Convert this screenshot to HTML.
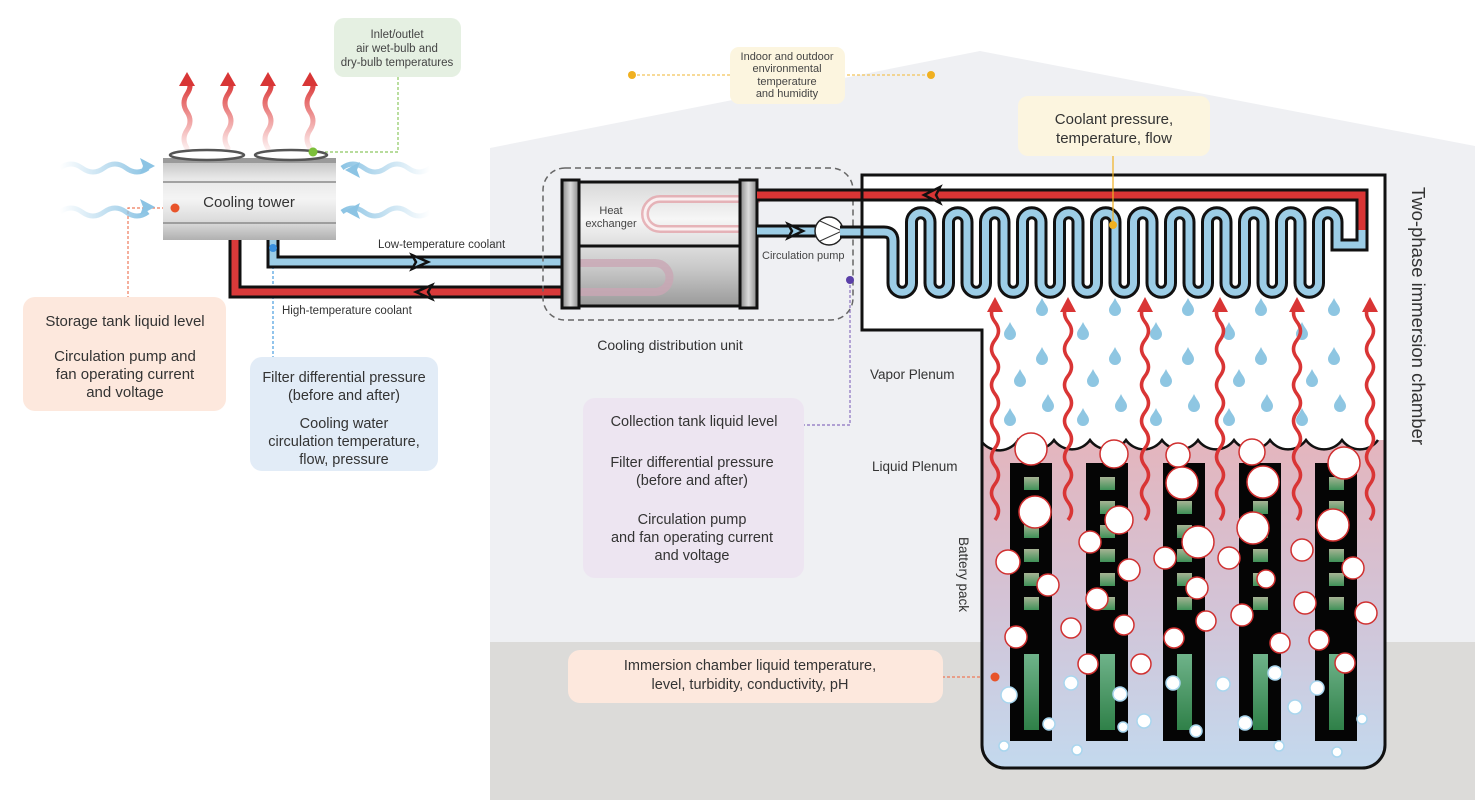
<!DOCTYPE html>
<html><head><meta charset="utf-8">
<style>
html,body{margin:0;padding:0;background:#fff;}
svg{display:block;font-family:"Liberation Sans",sans-serif;}
</style></head>
<body>
<svg width="1475" height="800" viewBox="0 0 1475 800" xmlns="http://www.w3.org/2000/svg">
<defs>
<linearGradient id="liq" x1="0" y1="0" x2="0" y2="1">
<stop offset="0" stop-color="#e4b5bd"/><stop offset="0.5" stop-color="#d3c3d6"/><stop offset="1" stop-color="#c3d9ee"/></linearGradient>
<linearGradient id="tower" x1="0" y1="0" x2="0" y2="1">
<stop offset="0" stop-color="#bdbdbd"/><stop offset="0.25" stop-color="#e8e8e8"/><stop offset="0.5" stop-color="#f4f4f4"/><stop offset="0.8" stop-color="#d8d8d8"/><stop offset="1" stop-color="#b0b0b0"/></linearGradient>
<linearGradient id="hx" x1="0" y1="0" x2="0" y2="1">
<stop offset="0" stop-color="#d8d8d8"/><stop offset="0.3" stop-color="#f6f6f6"/><stop offset="0.7" stop-color="#c8c8c8"/><stop offset="1" stop-color="#9a9a9a"/></linearGradient>
<linearGradient id="cap" x1="0" y1="0" x2="1" y2="0">
<stop offset="0" stop-color="#888"/><stop offset="0.5" stop-color="#ddd"/><stop offset="1" stop-color="#888"/></linearGradient>
<linearGradient id="redfade" x1="0" y1="1" x2="0" y2="0">
<stop offset="0" stop-color="#e24a4a" stop-opacity="0.1"/><stop offset="0.6" stop-color="#e04545" stop-opacity="0.7"/><stop offset="1" stop-color="#d83030"/></linearGradient>
<linearGradient id="bluefadeR" x1="0" y1="0" x2="1" y2="0">
<stop offset="0" stop-color="#8cc4e4" stop-opacity="0"/><stop offset="1" stop-color="#8cc4e4"/></linearGradient>
<linearGradient id="bluefadeL" x1="1" y1="0" x2="0" y2="0">
<stop offset="0" stop-color="#8cc4e4" stop-opacity="0"/><stop offset="1" stop-color="#8cc4e4"/></linearGradient>
<linearGradient id="cell" x1="0" y1="0" x2="0" y2="1">
<stop offset="0" stop-color="#a6b394"/><stop offset="1" stop-color="#3f9158"/></linearGradient>
<linearGradient id="bar" x1="0" y1="0" x2="0" y2="1">
<stop offset="0" stop-color="#6fb38a"/><stop offset="1" stop-color="#2f8048"/></linearGradient>
<path id="drop" d="M0,-9 C2,-4 6,-1 6,3 A6,6 0 0 1 -6,3 C-6,-1 -2,-4 0,-9Z" fill="#8ec6e2"/>
<g id="dcol">
<use href="#drop" x="1042" y="307"/><use href="#drop" x="1010" y="331"/><use href="#drop" x="1042" y="356"/>
<use href="#drop" x="1020" y="378"/><use href="#drop" x="1048" y="403"/><use href="#drop" x="1010" y="417"/>
</g>
</defs>

<!-- building -->
<polygon points="490,148 980,51 1475,146 1475,800 490,800" fill="#eff0f3"/>
<rect x="490" y="642" width="985" height="158" fill="#dcdbd9"/>

<!-- callouts connectors -->
<polyline points="398,77 398,152 313,152" fill="none" stroke="#8cc860" stroke-width="1.2" stroke-dasharray="3,2"/>
<circle cx="313" cy="152" r="4.5" fill="#7cbf3a"/>
<line x1="632" y1="75" x2="931" y2="75" stroke="#f2c45a" stroke-width="1.2" stroke-dasharray="3,2"/>
<circle cx="632" cy="75" r="4" fill="#f0b020"/><circle cx="931" cy="75" r="4" fill="#f0b020"/>
<polyline points="175,208 128,208 128,297" fill="none" stroke="#ee7a5a" stroke-width="1.2" stroke-dasharray="3,2"/>
<line x1="273" y1="246" x2="273" y2="358" stroke="#4a9ee0" stroke-width="1.2" stroke-dasharray="3,2"/>
<polyline points="850,280 850,425 804,425" fill="none" stroke="#8a70c0" stroke-width="1.2" stroke-dasharray="3,2"/>
<line x1="942" y1="677" x2="995" y2="677" stroke="#ee7a5a" stroke-width="1.2" stroke-dasharray="3,2"/>

<!-- cooling tower -->
<g stroke-width="5" fill="none" stroke-linecap="round">
<path d="M187,148 q-6,-9 0,-18 t0,-18 t0,-18 t0,-14" stroke="url(#redfade)"/>
<path d="M228,148 q-6,-9 0,-18 t0,-18 t0,-18 t0,-14" stroke="url(#redfade)"/>
<path d="M268,148 q-6,-9 0,-18 t0,-18 t0,-18 t0,-14" stroke="url(#redfade)"/>
<path d="M310,148 q-6,-9 0,-18 t0,-18 t0,-18 t0,-14" stroke="url(#redfade)"/>
</g>
<g fill="#d83636">
<polygon points="187,72 179,86 195,86"/><polygon points="228,72 220,86 236,86"/>
<polygon points="268,72 260,86 276,86"/><polygon points="310,72 302,86 318,86"/>
</g>
<!-- blue wind -->
<g stroke-width="5" fill="none">
<path d="M60,168 q11,-8 22,0 t22,0 t22,0 t22,0" stroke="url(#bluefadeR)"/>
<path d="M60,212 q11,-8 22,0 t22,0 t22,0 t22,0" stroke="url(#bluefadeR)"/>
<path d="M430,168 q-11,8 -22,0 t-22,0 t-22,0 t-22,0" stroke="url(#bluefadeL)"/>
<path d="M430,212 q-11,8 -22,0 t-22,0 t-22,0 t-22,0" stroke="url(#bluefadeL)"/>
</g>
<g fill="#8cc4e4">
<polygon points="155,166 140,158 143,166 140,174"/><polygon points="155,207 140,199 143,207 140,215"/>
<polygon points="345,170 360,162 357,170 360,178"/><polygon points="345,211 360,203 357,211 360,219"/>
</g>
<rect x="163" y="158" width="173" height="82" fill="url(#tower)"/>
<rect x="163" y="158" width="173" height="5" fill="#9a9a9a"/>
<line x1="163" y1="182" x2="336" y2="182" stroke="#8a8a8a" stroke-width="1.5"/>
<line x1="163" y1="223" x2="336" y2="223" stroke="#8a8a8a" stroke-width="1.5"/>
<ellipse cx="207" cy="155" rx="37" ry="5" fill="#fff" stroke="#555" stroke-width="2.5"/>
<ellipse cx="291" cy="155" rx="36" ry="5" fill="#fff" stroke="#555" stroke-width="2.5"/>
<circle cx="313" cy="152" r="4.5" fill="#7cbf3a"/>
<text x="249" y="207" font-size="15" fill="#333" text-anchor="middle">Cooling tower</text>
<circle cx="175" cy="208" r="4.5" fill="#e8542a"/>

<!-- pipes from tower -->
<path d="M235,240 V292 H565" fill="none" stroke="#111" stroke-width="13"/>
<path d="M235,240 V292 H565" fill="none" stroke="#d93a3a" stroke-width="7"/>
<path d="M273,240 V262 H565" fill="none" stroke="#111" stroke-width="13"/>
<path d="M273,240 V262 H565" fill="none" stroke="#9ccde6" stroke-width="7"/>
<polygon points="412,255 428,262 412,269 416,262" fill="#9ccde6" stroke="#111" stroke-width="2.5" stroke-linejoin="miter"/>
<polygon points="432,285 416,292 432,299 428,292" fill="#d93a3a" stroke="#111" stroke-width="2.5"/>
<circle cx="273" cy="248" r="4" fill="#3a90dd"/>
<text x="378" y="248" font-size="11.5" fill="#333">Low-temperature coolant</text>
<text x="282" y="314" font-size="11.5" fill="#333">High-temperature coolant</text>

<!-- CDU -->
<rect x="543" y="168" width="310" height="152" rx="22" fill="none" stroke="#666" stroke-width="1.5" stroke-dasharray="6,4"/>
<rect x="566" y="182" width="180" height="124" fill="url(#hx)"/>
<path d="M760,199 H660 a15,15 0 0 0 0,30 H760" fill="none" stroke="#e3a4aa" stroke-width="8" opacity="0.8"/>
<path d="M760,199 H660 a15,15 0 0 0 0,30 H760" fill="none" stroke="#fff" stroke-width="3" opacity="0.8"/>
<path d="M565,263 H655 a14.5,14.5 0 0 1 0,29 H565" fill="none" stroke="#c9a6b4" stroke-width="8" opacity="0.8"/>
<line x1="562" y1="182" x2="757" y2="182" stroke="#111" stroke-width="3"/>
<line x1="562" y1="306" x2="757" y2="306" stroke="#111" stroke-width="3"/>
<line x1="562" y1="246" x2="757" y2="246" stroke="#111" stroke-width="3"/>
<rect x="562" y="180" width="17" height="128" fill="url(#cap)" stroke="#111" stroke-width="3"/>
<rect x="740" y="180" width="17" height="128" fill="url(#cap)" stroke="#111" stroke-width="3"/>
<text x="611" y="214" font-size="11" fill="#444" text-anchor="middle">Heat</text>
<text x="611" y="227" font-size="11" fill="#444" text-anchor="middle">exchanger</text>
<path d="M757,231 H816" stroke="#111" stroke-width="13"/>
<path d="M757,231 H816" stroke="#9ccde6" stroke-width="7"/>
<polygon points="788,224 803,231 788,238 792,231" fill="#9ccde6" stroke="#111" stroke-width="2.5"/>
<circle cx="829" cy="231" r="14" fill="#fff" stroke="#222" stroke-width="1.5"/>
<path d="M820,221 L842,231 L820,241" fill="none" stroke="#333" stroke-width="1"/>
<text x="762" y="259" font-size="11" fill="#444">Circulation pump</text>
<circle cx="850" cy="280" r="4" fill="#5a3fa8"/>
<text x="670" y="350" font-size="14" fill="#333" text-anchor="middle">Cooling distribution unit</text>

<!-- chamber -->
<path d="M862,175 H1385 V745 a23,23 0 0 1 -23,23 H1005 a23,23 0 0 1 -23,-23 V330 H862 Z" fill="#fff"/>
<path d="M982,442 a22,22 0 0 0 36,-2 a22,22 0 0 0 36,0 a22,22 0 0 0 36,0 a22,22 0 0 0 36,0 a22,22 0 0 0 36,0 a22,22 0 0 0 36,0 a22,22 0 0 0 36,0 a22,22 0 0 0 36,0 a22,22 0 0 0 36,0 a22,22 0 0 0 36,0 a22,22 0 0 0 36,0 L1385,440 V745 a23,23 0 0 1 -23,23 H1005 a23,23 0 0 1 -23,-23 Z" fill="url(#liq)"/>
<path d="M982,442 a22,22 0 0 0 36,-2 a22,22 0 0 0 36,0 a22,22 0 0 0 36,0 a22,22 0 0 0 36,0 a22,22 0 0 0 36,0 a22,22 0 0 0 36,0 a22,22 0 0 0 36,0 a22,22 0 0 0 36,0 a22,22 0 0 0 36,0 a22,22 0 0 0 36,0 a22,22 0 0 0 36,0" fill="none" stroke="#111" stroke-width="2.5"/>

<!-- drops -->
<use href="#dcol"/><use href="#dcol" x="73"/><use href="#dcol" x="146"/><use href="#dcol" x="219"/><use href="#dcol" x="292"/>

<!-- batteries -->
<g id="bat">
<rect x="1010" y="463" width="42" height="278" fill="#050505"/>
<rect x="1024" y="477" width="15" height="13" fill="url(#cell)"/>
<rect x="1024" y="501" width="15" height="13" fill="url(#cell)"/>
<rect x="1024" y="525" width="15" height="13" fill="url(#cell)"/>
<rect x="1024" y="549" width="15" height="13" fill="url(#cell)"/>
<rect x="1024" y="573" width="15" height="13" fill="url(#cell)"/>
<rect x="1024" y="597" width="15" height="13" fill="url(#cell)"/>
<rect x="1024" y="654" width="15" height="76" fill="url(#bar)"/>
</g>
<use href="#bat" x="76"/><use href="#bat" x="153"/><use href="#bat" x="229"/><use href="#bat" x="305"/>

<!-- red vapor arrows -->
<g stroke="#d93535" stroke-width="3.5" fill="none">
<path d="M995,520 q7,-9 0,-18 t0,-18 t0,-18 t0,-18 t0,-18 t0,-18 t0,-18 t0,-18 t0,-18 t0,-18 t0,-18 t0,-18"/>
<path d="M1068,520 q7,-9 0,-18 t0,-18 t0,-18 t0,-18 t0,-18 t0,-18 t0,-18 t0,-18 t0,-18 t0,-18 t0,-18 t0,-18"/>
<path d="M1145,520 q7,-9 0,-18 t0,-18 t0,-18 t0,-18 t0,-18 t0,-18 t0,-18 t0,-18 t0,-18 t0,-18 t0,-18 t0,-18"/>
<path d="M1220,520 q7,-9 0,-18 t0,-18 t0,-18 t0,-18 t0,-18 t0,-18 t0,-18 t0,-18 t0,-18 t0,-18 t0,-18 t0,-18"/>
<path d="M1297,520 q7,-9 0,-18 t0,-18 t0,-18 t0,-18 t0,-18 t0,-18 t0,-18 t0,-18 t0,-18 t0,-18 t0,-18 t0,-18"/>
<path d="M1370,520 q7,-9 0,-18 t0,-18 t0,-18 t0,-18 t0,-18 t0,-18 t0,-18 t0,-18 t0,-18 t0,-18 t0,-18 t0,-18"/>
</g>
<g fill="#d93535">
<polygon points="995,297 987,312 1003,312"/><polygon points="1068,297 1060,312 1076,312"/>
<polygon points="1145,297 1137,312 1153,312"/><polygon points="1220,297 1212,312 1228,312"/>
<polygon points="1297,297 1289,312 1305,312"/><polygon points="1370,297 1362,312 1378,312"/>
</g>

<!-- bubbles -->
<g fill="#fff" stroke="#d03030" stroke-width="1.5">
<circle cx="1031" cy="449" r="16"/><circle cx="1114" cy="454" r="14"/><circle cx="1035" cy="512" r="16"/>
<circle cx="1119" cy="520" r="14"/><circle cx="1008" cy="562" r="12"/><circle cx="1090" cy="542" r="11"/>
<circle cx="1129" cy="570" r="11"/><circle cx="1048" cy="585" r="11"/><circle cx="1097" cy="599" r="11"/>
<circle cx="1016" cy="637" r="11"/><circle cx="1071" cy="628" r="10"/><circle cx="1124" cy="625" r="10"/>
<circle cx="1088" cy="664" r="10"/><circle cx="1141" cy="664" r="10"/><circle cx="1182" cy="483" r="16"/>
<circle cx="1198" cy="542" r="16"/><circle cx="1165" cy="558" r="11"/><circle cx="1197" cy="588" r="11"/>
<circle cx="1206" cy="621" r="10"/><circle cx="1174" cy="638" r="10"/><circle cx="1263" cy="482" r="16"/>
<circle cx="1253" cy="528" r="16"/><circle cx="1229" cy="558" r="11"/><circle cx="1266" cy="579" r="9"/>
<circle cx="1242" cy="615" r="11"/><circle cx="1280" cy="643" r="10"/><circle cx="1344" cy="463" r="16"/>
<circle cx="1333" cy="525" r="16"/><circle cx="1302" cy="550" r="11"/><circle cx="1353" cy="568" r="11"/>
<circle cx="1305" cy="603" r="11"/><circle cx="1366" cy="613" r="11"/><circle cx="1319" cy="640" r="10"/>
<circle cx="1345" cy="663" r="10"/><circle cx="1252" cy="452" r="13"/><circle cx="1178" cy="455" r="12"/>
</g>
<g fill="#fff" stroke="#a9d6ee" stroke-width="1.5">
<circle cx="1009" cy="695" r="8"/><circle cx="1049" cy="724" r="6"/><circle cx="1004" cy="746" r="5"/>
<circle cx="1071" cy="683" r="7"/><circle cx="1120" cy="694" r="7"/><circle cx="1123" cy="727" r="5"/>
<circle cx="1144" cy="721" r="7"/><circle cx="1077" cy="750" r="5"/><circle cx="1173" cy="683" r="7"/>
<circle cx="1196" cy="731" r="6"/><circle cx="1223" cy="684" r="7"/><circle cx="1245" cy="723" r="7"/>
<circle cx="1275" cy="673" r="7"/><circle cx="1295" cy="707" r="7"/><circle cx="1279" cy="746" r="5"/>
<circle cx="1317" cy="688" r="7"/><circle cx="1362" cy="719" r="5"/><circle cx="1337" cy="752" r="5"/>
</g>

<!-- coil -->
<path id="coil" d="M840,232 H884 q9,0 9,9 V283 a9.25,9.25 0 0 0 18.5,0 V222 a9.25,9.25 0 0 1 18.5,0 V283 a9.25,9.25 0 0 0 18.5,0 V222 a9.25,9.25 0 0 1 18.5,0 V283 a9.25,9.25 0 0 0 18.5,0 V222 a9.25,9.25 0 0 1 18.5,0 V283 a9.25,9.25 0 0 0 18.5,0 V222 a9.25,9.25 0 0 1 18.5,0 V283 a9.25,9.25 0 0 0 18.5,0 V222 a9.25,9.25 0 0 1 18.5,0 V283 a9.25,9.25 0 0 0 18.5,0 V222 a9.25,9.25 0 0 1 18.5,0 V283 a9.25,9.25 0 0 0 18.5,0 V222 a9.25,9.25 0 0 1 18.5,0 V283 a9.25,9.25 0 0 0 18.5,0 V222 a9.25,9.25 0 0 1 18.5,0 V283 a9.25,9.25 0 0 0 18.5,0 V222 a9.25,9.25 0 0 1 18.5,0 V283 a9.25,9.25 0 0 0 18.5,0 V222 a9.25,9.25 0 0 1 18.5,0 V283 a9.25,9.25 0 0 0 18.5,0 V222 a9.25,9.25 0 0 1 18.5,0 V283 a9.25,9.25 0 0 0 18.5,0 V222 a9.25,9.25 0 0 1 18.5,0 V245 H1362 V225" fill="none" stroke="#111" stroke-width="13"/>
<path d="M840,232 H884 q9,0 9,9 V283 a9.25,9.25 0 0 0 18.5,0 V222 a9.25,9.25 0 0 1 18.5,0 V283 a9.25,9.25 0 0 0 18.5,0 V222 a9.25,9.25 0 0 1 18.5,0 V283 a9.25,9.25 0 0 0 18.5,0 V222 a9.25,9.25 0 0 1 18.5,0 V283 a9.25,9.25 0 0 0 18.5,0 V222 a9.25,9.25 0 0 1 18.5,0 V283 a9.25,9.25 0 0 0 18.5,0 V222 a9.25,9.25 0 0 1 18.5,0 V283 a9.25,9.25 0 0 0 18.5,0 V222 a9.25,9.25 0 0 1 18.5,0 V283 a9.25,9.25 0 0 0 18.5,0 V222 a9.25,9.25 0 0 1 18.5,0 V283 a9.25,9.25 0 0 0 18.5,0 V222 a9.25,9.25 0 0 1 18.5,0 V283 a9.25,9.25 0 0 0 18.5,0 V222 a9.25,9.25 0 0 1 18.5,0 V283 a9.25,9.25 0 0 0 18.5,0 V222 a9.25,9.25 0 0 1 18.5,0 V283 a9.25,9.25 0 0 0 18.5,0 V222 a9.25,9.25 0 0 1 18.5,0 V283 a9.25,9.25 0 0 0 18.5,0 V222 a9.25,9.25 0 0 1 18.5,0 V245 H1362 V225" fill="none" stroke="#9ccde6" stroke-width="7"/>
<path d="M1362,228 V195 H757" fill="none" stroke="#111" stroke-width="13"/>
<path d="M1362,230 V195 H757" fill="none" stroke="#d93535" stroke-width="7"/>
<polygon points="924,195 940,187 936,195 940,203" fill="#d93535" stroke="#111" stroke-width="2.5"/>

<!-- chamber outline -->
<path d="M862,175 H1385 V745 a23,23 0 0 1 -23,23 H1005 a23,23 0 0 1 -23,-23 V330 H862 Z" fill="none" stroke="#111" stroke-width="3"/>
<circle cx="995" cy="677" r="4.5" fill="#e8542a"/>
<circle cx="1113" cy="225" r="4" fill="#f0b020"/>
<line x1="1113" y1="156" x2="1113" y2="225" stroke="#f0b020" stroke-width="1.2"/>

<text x="870" y="379" font-size="13.5" fill="#333">Vapor Plenum</text>
<text x="872" y="471" font-size="13.5" fill="#333">Liquid Plenum</text>
<text transform="translate(959,537) rotate(90)" font-size="13.5" fill="#333">Battery pack</text>
<text transform="translate(1412,187) rotate(90)" font-size="18.5" fill="#333">Two-phase immersion chamber</text>

<!-- callout boxes -->
<rect x="334" y="18" width="127" height="59" rx="10" fill="#e5f0e2"/>
<g font-size="11.5" fill="#444" text-anchor="middle">
<text x="397" y="38">Inlet/outlet</text><text x="397" y="52">air wet-bulb and</text><text x="397" y="66">dry-bulb temperatures</text>
</g>
<rect x="730" y="47" width="115" height="57" rx="9" fill="#fcf5df"/>
<g font-size="11" fill="#444" text-anchor="middle">
<text x="787" y="60">Indoor and outdoor</text><text x="787" y="72">environmental</text><text x="787" y="85">temperature</text><text x="787" y="97">and humidity</text>
</g>
<rect x="1018" y="96" width="192" height="60" rx="10" fill="#fcf5df"/>
<g font-size="15" fill="#333" text-anchor="middle">
<text x="1114" y="124">Coolant pressure,</text><text x="1114" y="143">temperature, flow</text>
</g>
<rect x="23" y="297" width="203" height="114" rx="12" fill="#fde8dd"/>
<g font-size="15" fill="#333" text-anchor="middle">
<text x="125" y="326">Storage tank liquid level</text><text x="125" y="361">Circulation pump and</text>
<text x="125" y="379">fan operating current</text><text x="125" y="397">and voltage</text>
</g>
<rect x="250" y="357" width="188" height="114" rx="12" fill="#e2ecf7"/>
<g font-size="14.5" fill="#333" text-anchor="middle">
<text x="344" y="382">Filter differential pressure</text><text x="344" y="400">(before and after)</text>
<text x="344" y="428">Cooling water</text><text x="344" y="446">circulation temperature,</text><text x="344" y="464">flow, pressure</text>
</g>
<rect x="583" y="398" width="221" height="180" rx="12" fill="#ede5f1"/>
<g font-size="14.5" fill="#333" text-anchor="middle">
<text x="694" y="426">Collection tank liquid level</text>
<text x="692" y="467">Filter differential pressure</text><text x="692" y="485">(before and after)</text>
<text x="692" y="524">Circulation pump</text><text x="692" y="542">and fan operating current</text><text x="692" y="560">and voltage</text>
</g>
<rect x="568" y="650" width="375" height="53" rx="12" fill="#fde8dd"/>
<g font-size="14.5" fill="#333" text-anchor="middle">
<text x="750" y="670">Immersion chamber liquid temperature,</text><text x="750" y="689">level, turbidity, conductivity, pH</text>
</g>
</svg>
</body></html>
